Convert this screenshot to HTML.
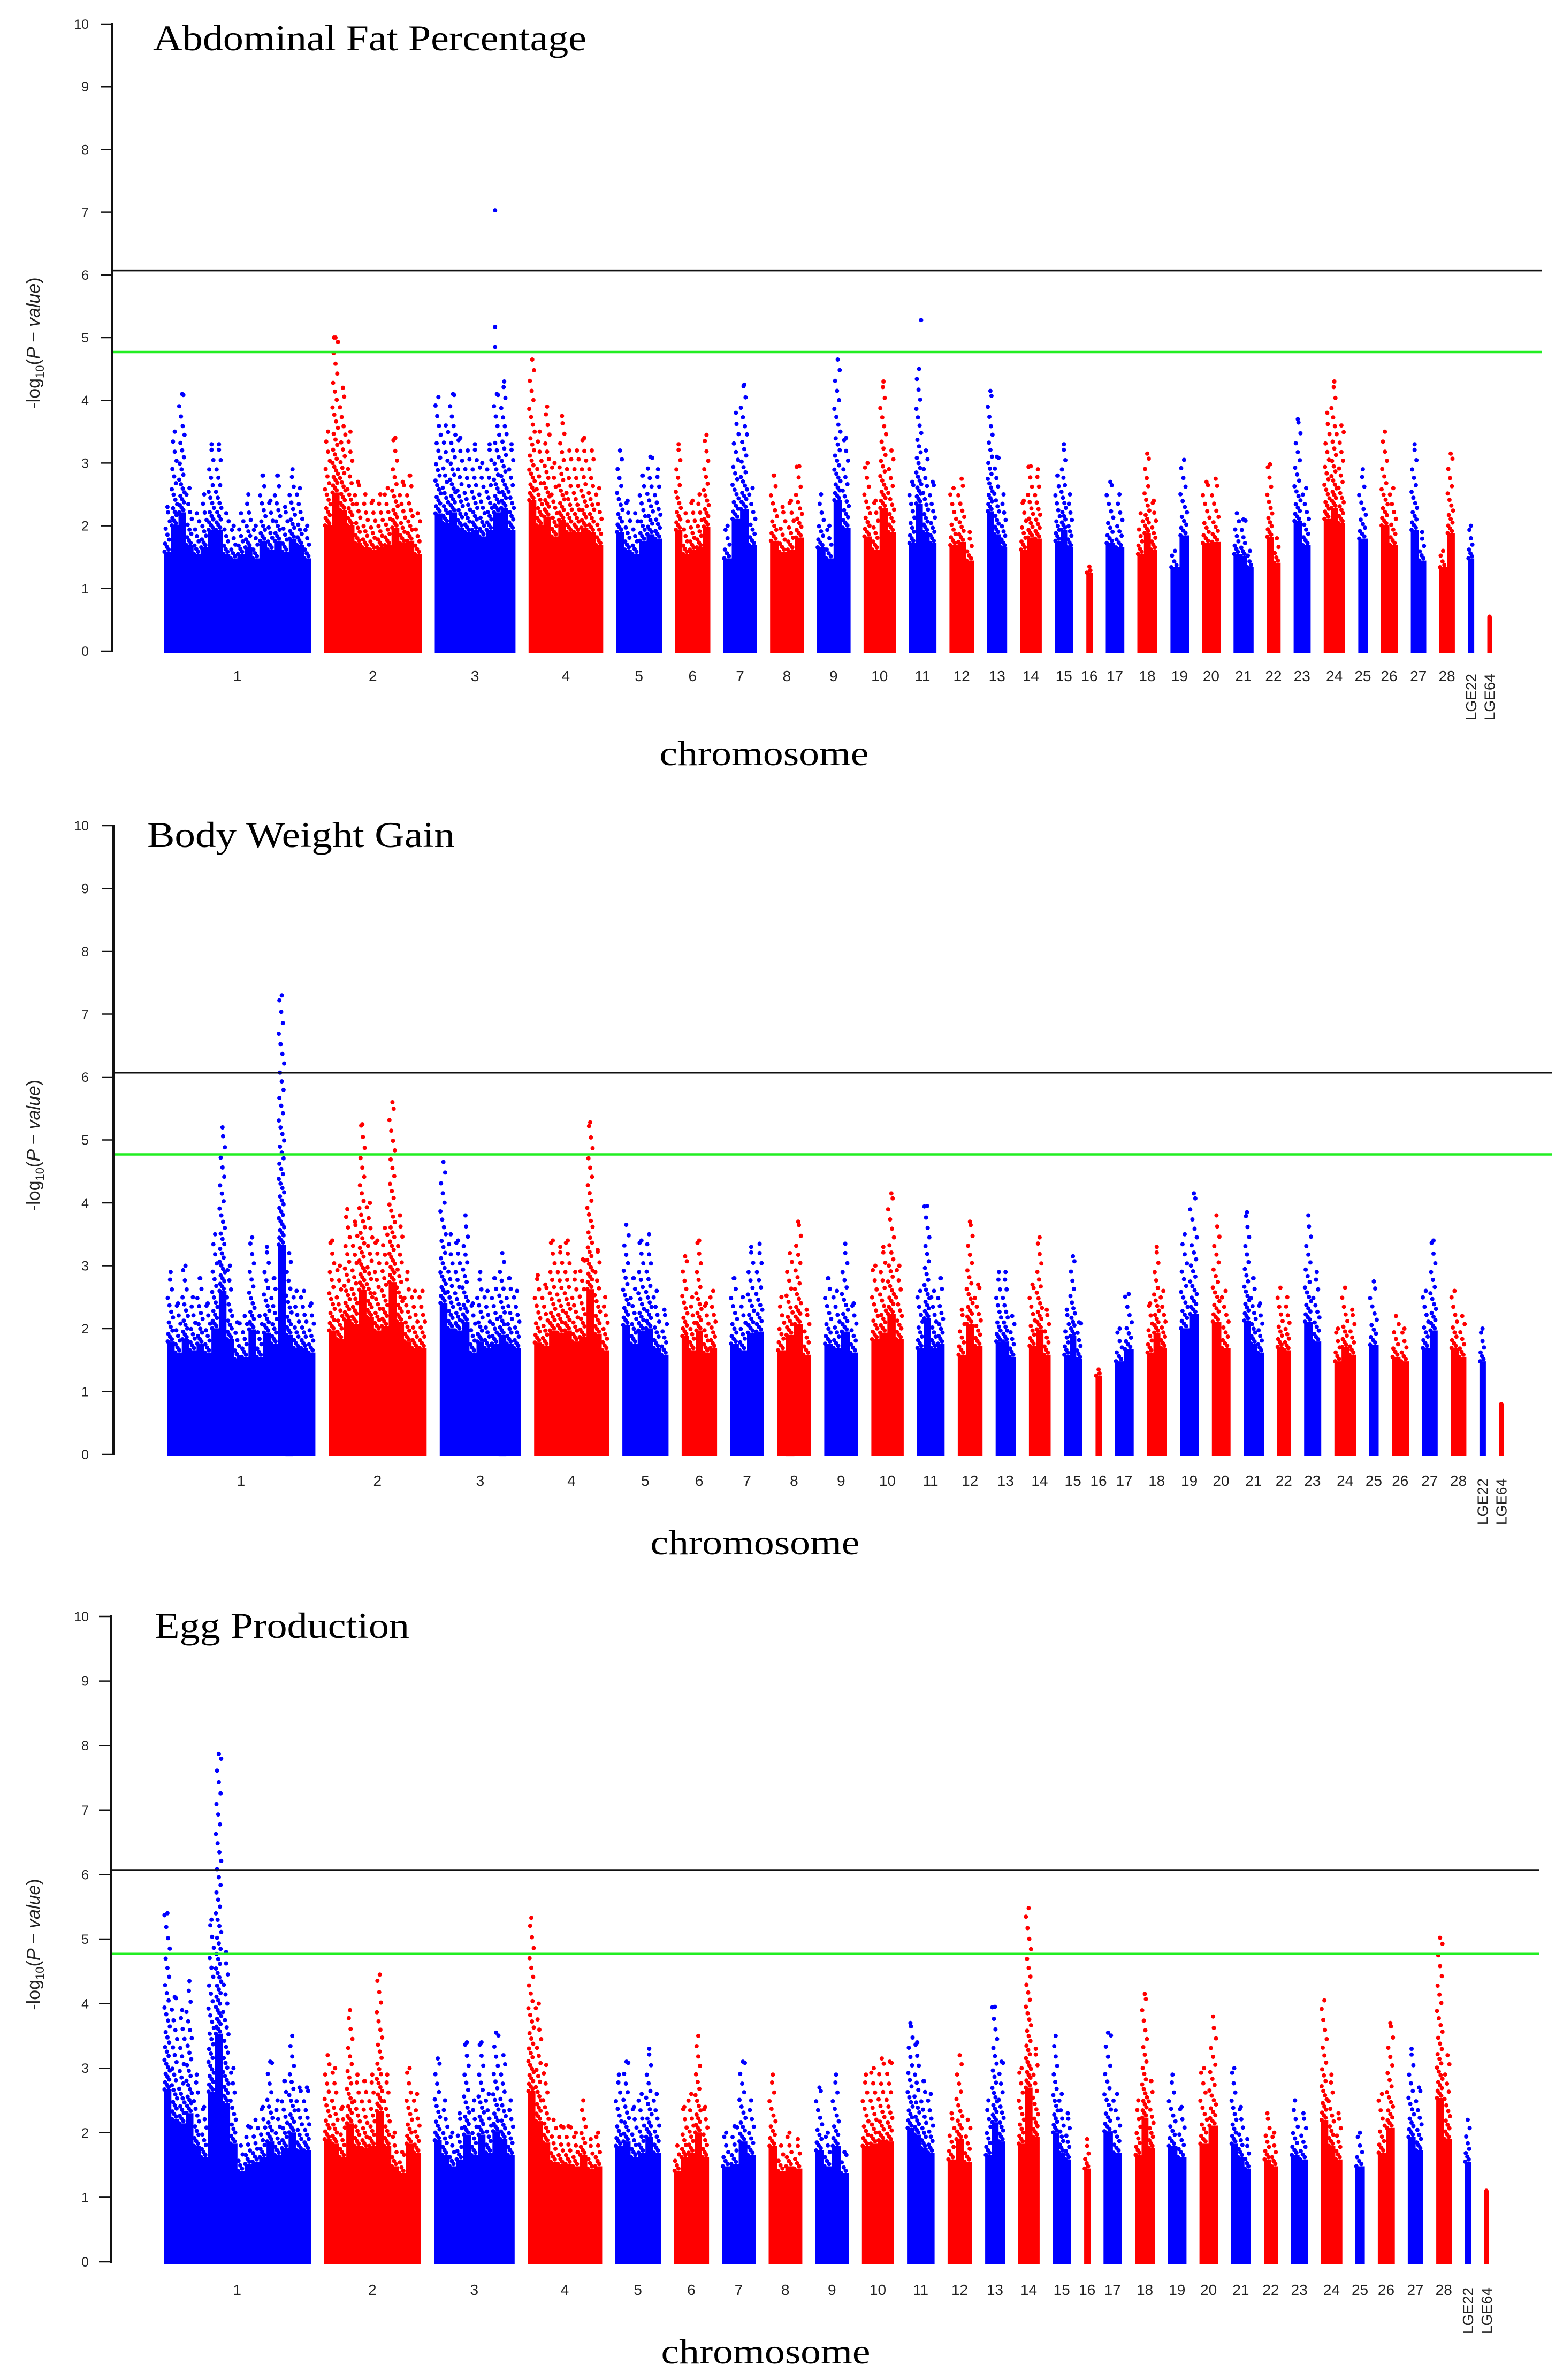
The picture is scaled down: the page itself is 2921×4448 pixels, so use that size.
<!DOCTYPE html>
<html><head><meta charset="utf-8">
<style>
html,body{margin:0;padding:0;background:#fff;}
svg{display:block;}
</style></head>
<body>
<svg id="fig" xmlns="http://www.w3.org/2000/svg" width="2921" height="4448" viewBox="0 0 2921 4448"></svg>
<script>
// ---- shared data ----
const chromNames = ["1","2","3","4","5","6","7","8","9","10","11","12","13","14","15","16","17","18","19","20","21","22","23","24","25","26","27","28","LGE22","LGE64"];
const chromLengths = [97,64,53,49,30,23,22,22,22,21,18,16,13,14,12,4,12,13,12,12,13,9,11,14,6,11,10,10,4,3];
const yTicks = [0,1,2,3,4,5,6,7,8,9,10];
const thresholdBlack = 6.07;
const thresholdGreen = 4.77;

// ---- panel 1: Abdominal Fat Percentage (per-bin peak -log10 p) ----
const afpPeaks = [
 [2.3,3.5,4.1,2.6,2.2,2.5,3.3,3.3,2.2,2.0,2.2,2.5,2.0,2.8,2.4,2.8,2.3,2.9,2.6,2.0],
 [3.5,5.0,4.2,3.5,2.7,2.5,2.4,2.5,2.6,3.4,2.7,2.8,2.2],
 [4.05,3.6,4.1,3.4,3.2,3.3,3.0,3.3,4.1,4.3,3.3],
 [4.65,3.5,3.9,3.0,3.75,3.2,3.2,3.4,3.2,2.6],
 [3.2,2.4,2.2,2.8,3.1,2.9],
 [3.3,2.2,2.4,2.5,3.45],
 [2.0,3.8,4.25,2.6],
 [2.8,2.3,2.4,2.95],
 [2.5,2.0,4.65,3.4],
 [3.0,2.4,4.3,3.2],
 [2.7,4.5,3.2,2.7],
 [2.6,2.75,1.9],
 [4.15,3.1,2.5],
 [2.4,2.95,2.9],
 [2.8,3.3,2.5],
 [1.35],
 [2.7,2.5],
 [2.2,3.15,2.4],
 [1.6,3.05],
 [2.7,2.75],
 [2.2,2.1,1.6],
 [2.98,1.8],
 [3.7,2.6],
 [3.8,4.3,3.6],
 [2.9],
 [3.5,2.6],
 [3.3,1.9],
 [1.6,3.15],
 [2.0],
 [0.55]
];
const afpOutlierChrom = [2,2,2,1,10];
const afpOutlierPos = [0.75,0.75,0.75,0.1,0.45];
const afpOutlierVal = [7.03,5.17,4.85,5.0,5.28];

// ---- panel 2: Body Weight Gain ----
const bwgPeaks = [
 [2.9,2.4,3.0,2.5,2.8,2.4,3.5,5.2,3.0,2.1,2.2,3.45,2.2,3.3,2.8,7.3,3.2,2.6,2.6,2.4],
 [3.4,3.0,3.9,3.7,5.25,4.0,3.4,3.6,5.6,3.8,2.9,2.6,2.6],
 [4.65,3.5,3.4,3.8,2.4,2.9,2.6,2.8,3.2,2.8,2.6],
 [2.85,2.7,3.4,3.3,3.4,2.9,3.1,5.28,3.25,2.5],
 [3.65,2.8,3.4,3.5,2.6,2.3],
 [3.15,2.5,3.4,2.4,2.6],
 [2.8,2.5,3.3,3.35],
 [2.5,3.2,3.7,2.3],
 [2.8,2.6,3.35,2.4],
 [3.0,3.3,4.15,3.0],
 [2.6,3.95,2.6,2.8],
 [2.3,3.7,2.7],
 [2.9,2.9,2.2],
 [2.7,3.45,2.3],
 [2.3,3.15,2.1],
 [1.35],
 [2.0,2.55],
 [2.4,3.3,2.6],
 [3.5,4.15],
 [3.8,2.6],
 [3.85,2.8,2.4],
 [2.65,2.5],
 [3.8,2.9],
 [2.0,2.65,2.3],
 [2.75],
 [2.2,2.0],
 [2.6,3.4],
 [2.6,2.2],
 [2.0],
 [0.8]
];
const bwgOutlierChrom = [];
const bwgOutlierPos = [];
const bwgOutlierVal = [];

// ---- panel 3: Egg Production ----
const epPeaks = [
 [5.4,4.1,3.9,4.35,2.9,2.4,5.3,7.87,4.8,3.0,1.8,2.1,2.2,2.4,3.1,2.5,2.8,3.5,2.7,2.7],
 [3.2,3.0,2.4,3.9,2.9,2.8,2.9,4.45,2.9,2.0,1.7,3.0,2.6],
 [3.15,2.5,2.0,2.3,3.4,2.5,3.4,2.6,3.55,3.2,2.5],
 [5.33,4.0,3.05,2.2,2.1,2.1,2.0,2.5,1.9,2.0],
 [2.9,3.1,2.4,2.6,3.3,2.6],
 [1.8,2.4,2.6,3.5,2.4],
 [2.0,2.1,3.1,2.5],
 [2.9,1.8,2.0,1.9],
 [2.7,2.0,2.9,1.7],
 [2.9,3.0,3.15,3.1],
 [3.7,3.4,2.8,2.6],
 [2.3,3.2,2.2],
 [2.5,3.95,3.1],
 [3.0,5.48,3.3],
 [3.5,2.6,2.3],
 [1.9],
 [3.55,2.6],
 [2.5,4.15,2.8],
 [2.9,2.4],
 [3.0,3.8],
 [3.0,2.4,1.9],
 [2.3,2.0],
 [2.5,2.3],
 [4.05,2.9,2.3],
 [2.0],
 [2.6,3.7],
 [3.3,2.7],
 [5.02,3.2],
 [2.2],
 [1.1]
];
const epOutlierChrom = [];
const epOutlierPos = [];
const epOutlierVal = [];

// ---- layout (not data) ----
const panels = [
 {id:"abdominal-fat", title:"Abdominal Fat Percentage", titleX:286, titleY:94, titleLen:810,
  yTop:45, yZero:1217, axisX:210, xStart:306, xEnd:2788, lineEnd:2881, labY:1273, xlabY:1430, xlabX:1428,
  peaks:afpPeaks, oc:afpOutlierChrom, op:afpOutlierPos, ov:afpOutlierVal},
 {id:"body-weight-gain", title:"Body Weight Gain", titleX:275, titleY:1583, titleLen:575,
  yTop:1543, yZero:2718, axisX:212, xStart:312, xEnd:2810, lineEnd:2901, labY:2777, xlabY:2905, xlabX:1411,
  peaks:bwgPeaks, oc:bwgOutlierChrom, op:bwgOutlierPos, ov:bwgOutlierVal},
 {id:"egg-production", title:"Egg Production", titleX:289, titleY:3061, titleLen:476,
  yTop:3021, yZero:4227, axisX:207, xStart:306, xEnd:2782, lineEnd:2876, labY:4289, xlabY:4417, xlabX:1431,
  peaks:epPeaks, oc:epOutlierChrom, op:epOutlierPos, ov:epOutlierVal}
];
const NS="http://www.w3.org/2000/svg";
const svg=document.getElementById('fig');
function mk(tag,attrs,parent){const e=document.createElementNS(NS,tag);for(const k in attrs)e.setAttribute(k,attrs[k]);parent.appendChild(e);return e;}
const GAP=8.8;
const totalLen=chromLengths.reduce((a,b)=>a+b,0)+GAP*(chromLengths.length-1);

panels.forEach(p=>{
  const g=mk('g',{},svg);
  
  
  const ys=v=>p.yZero-(p.yZero-p.yTop)*v/10;
  const kx=(p.xEnd-p.xStart)/totalLen;
  const starts=[];let acc=0;
  chromLengths.forEach((l,i)=>{starts.push(acc);acc+=l+GAP;});
  const xs=(ci,f)=>p.xStart+(starts[ci]+f*chromLengths[ci])*kx;

  const pts=mk('g',{},g);
  
  
  p.peaks.forEach((arr,ci)=>{
    const col=ci%2===0?'#0000ff':'#ff0000';
    const cg=mk('g',{fill:col},pts);
    
    
    const n=arr.length;
    arr.forEach((pk,bi)=>{
      const x0=xs(ci,bi/n), x1=xs(ci,(bi+1)/n);
      const solid=Math.min(pk,1.2+0.35*Math.max(0,pk-1.2));
      const r=mk('rect',{x:x0.toFixed(1),y:ys(solid).toFixed(1),width:(x1-x0+0.6).toFixed(1),height:(ys(0)-ys(solid)+4).toFixed(1)},cg);
      
      
      let v=solid,k=0;const w=x1-x0;
      while(v<pk){
        const frac=(v-solid)/Math.max(0.01,pk-solid);
        const cx=x0+w*(((k*37)%10)/10*0.8+0.1);
        const c=mk('circle',{cx:cx.toFixed(1),cy:ys(v).toFixed(1),r:4},cg);
        
        
        v+=0.035+0.16*frac;k++;
      }
      const top=mk('circle',{cx:((x0+x1)/2).toFixed(1),cy:ys(pk).toFixed(1),r:4},cg);
      
      
    });
  });
  p.oc.forEach((ci,i)=>{
    const c=mk('circle',{cx:xs(ci,p.op[i]).toFixed(1),cy:ys(p.ov[i]).toFixed(1),r:4,fill:ci%2===0?'#0000ff':'#ff0000'},pts);
    
    
  });

  const bl=mk('line',{x1:p.axisX,x2:p.lineEnd,y1:ys(thresholdBlack),y2:ys(thresholdBlack),stroke:'#111',"stroke-width":3.5},g);
  
  
  const gl=mk('line',{x1:p.axisX,x2:p.lineEnd,y1:ys(thresholdGreen),y2:ys(thresholdGreen),stroke:'#22ee22',"stroke-width":4.5},g);
  
  

  const ax=mk('line',{x1:p.axisX,x2:p.axisX,y1:ys(10)-2,y2:ys(0)+2,stroke:'#111',"stroke-width":4},g);
  
  
  yTicks.forEach(t=>{
    const tl=mk('line',{x1:p.axisX-22,x2:p.axisX,y1:ys(t),y2:ys(t),stroke:'#111',"stroke-width":2.5},g);
    
    
    const tx=mk('text',{x:166,y:ys(t)+9,"text-anchor":"end","font-family":"Liberation Sans, sans-serif","font-size":25,fill:'#222'},g);
    tx.textContent=String(t);
    
    
  });
  const yc=(ys(6)+ys(4))/2+10;
  const yt=mk('text',{x:0,y:0,transform:`translate(74,${yc}) rotate(-90)`,"text-anchor":"middle","font-family":"Liberation Sans, sans-serif","font-size":34,fill:'#222'},g);
  
  
  yt.innerHTML='-log<tspan font-size="22" dy="8">10</tspan><tspan dy="-8">(</tspan><tspan font-style="italic">P − value</tspan>)';

  chromNames.forEach((nm,ci)=>{
    const cx=xs(ci,0.5);
    let t;
    if(nm.startsWith('LGE')){
      t=mk('text',{x:0,y:0,transform:`translate(${cx+10},${p.labY-14}) rotate(-90)`,"text-anchor":"end","font-family":"Liberation Sans, sans-serif","font-size":28,fill:'#222'},g);
    } else {
      t=mk('text',{x:cx,y:p.labY,"text-anchor":"middle","font-family":"Liberation Sans, sans-serif","font-size":28,fill:'#222'},g);
    }
    t.textContent=nm;
    
    
  });
  const xt=mk('text',{x:p.xlabX,y:p.xlabY,"text-anchor":"middle","font-family":"Liberation Serif, serif","font-size":66,fill:'#000',textLength:391,lengthAdjust:'spacingAndGlyphs'},g);
  xt.textContent='chromosome';
  
  
  const tt=mk('text',{x:p.titleX,y:p.titleY,"font-family":"Liberation Serif, serif","font-size":68,fill:'#000',textLength:p.titleLen,lengthAdjust:'spacingAndGlyphs'},g);
  tt.textContent=p.title;
  
  
});
</script>
</body></html>
